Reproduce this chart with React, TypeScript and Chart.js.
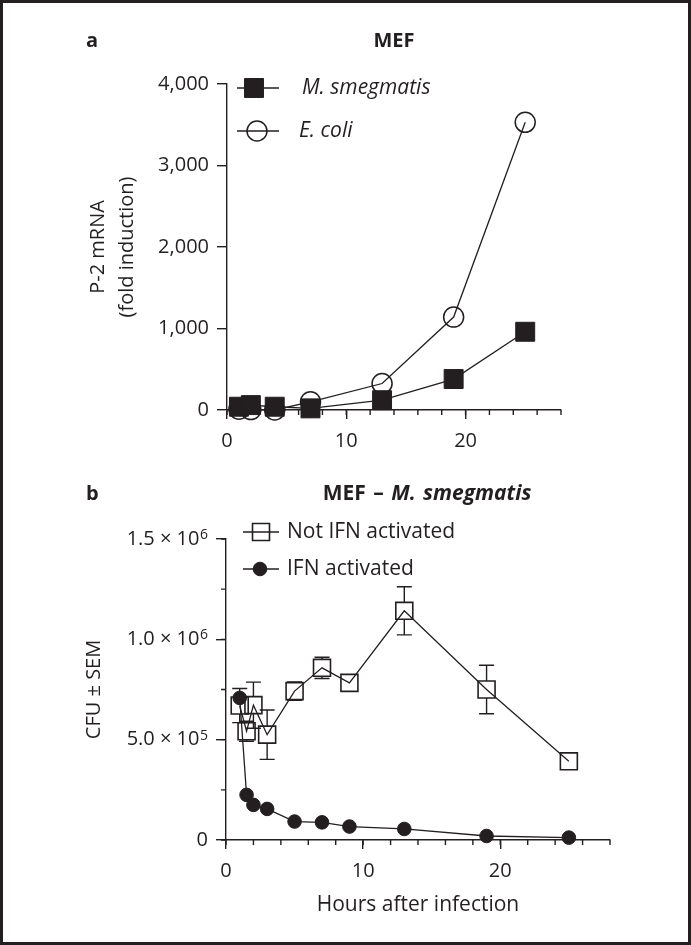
import React, { useEffect, useRef } from "react";
import { Chart, registerables } from "chart.js";

Chart.register(...registerables);

const INK = "#231f20";
const FONT = "'Open Sans', 'DejaVu Sans', sans-serif";

// ---------- Panel a: P-2 mRNA fold induction ----------
const hoursA = [1, 2, 4, 7, 13, 19, 25];
const smegA = [40, 60, 40, 20, 120, 380, 960];
const ecoliA = [10, 5, 0, 100, 325, 1140, 3530];
const yTicksA = [0, 1000, 2000, 3000, 4000];
const yTickLabelsA = ["0", "1,000", "2,000", "3,000", "4,000"];

// ---------- Panel b: CFU ± SEM ----------
const hoursB = [1, 1.5, 2, 3, 5, 7, 9, 13, 19, 25];
const notIfn = [670000, 542000, 672000, 525000, 742000, 858000, 783000, 1142000, 750000, 392000];
const notIfnSem = [85000, 50000, 115000, 123000, 46000, 53000, 0, 120000, 121000, 0];
const ifn = [708000, 225000, 175000, 155000, 92000, 88000, 67000, 55000, 20000, 12000];
const yTicksB = [0, 500000, 1000000, 1500000];
const yTickBasesB = ["0", "5.0 × 10", "1.0 × 10", "1.5 × 10"];
const yTickExpsB = ["", "5", "6", "6"];

const xTicks = [0, 10, 20];
const xTickLabels = ["0", "10", "20"];

function drawMarker(ctx: CanvasRenderingContext2D, style: string, x: number, y: number, r: number, filled: boolean, lw: number) {
  ctx.beginPath();
  if (style === "rect") {
    const s = Math.SQRT1_2 * r;
    ctx.rect(x - s, y - s, 2 * s, 2 * s);
  } else {
    ctx.arc(x, y, r, 0, Math.PI * 2);
  }
  if (filled) {
    ctx.fillStyle = INK;
    ctx.fill();
  }
  ctx.lineWidth = lw;
  ctx.strokeStyle = INK;
  ctx.stroke();
}

const lineLegend = {
  id: "lineLegend",
  afterDraw(chart: any, _args: any, opts: any) {
    if (!opts || !opts.items) return;
    const ctx: CanvasRenderingContext2D = chart.ctx;
    ctx.save();
    for (const it of opts.items) {
      const ds = chart.data.datasets[it.index];
      ctx.beginPath();
      ctx.moveTo(it.x0, it.y);
      ctx.lineTo(it.x1, it.y);
      ctx.lineWidth = 1.4;
      ctx.strokeStyle = INK;
      ctx.stroke();
      drawMarker(ctx, ds.pointStyle, it.mx, it.y, ds.pointRadius, ds.pointBackgroundColor === INK, ds.pointBorderWidth);
      ctx.fillStyle = INK;
      ctx.font = `${it.italic ? "italic " : ""}${opts.size}px ${FONT}`;
      ctx.textBaseline = "middle";
      ctx.textAlign = "left";
      ctx.fillText(ds.label, it.tx, it.y);
    }
    ctx.restore();
  },
};

const minorTicks = {
  id: "minorTicks",
  afterDraw(chart: any, _args: any, opts: any) {
    if (!opts) return;
    const ctx: CanvasRenderingContext2D = chart.ctx;
    ctx.save();
    ctx.strokeStyle = INK;
    ctx.lineWidth = 1.4;
    ctx.beginPath();
    if (opts.xStep) {
      const s = chart.scales.x;
      for (let v = s.min; v <= s.max + 1e-9; v += opts.xStep) {
        const p = s.getPixelForValue(v);
        ctx.moveTo(p, s.top);
        ctx.lineTo(p, s.top + opts.len);
      }
    }
    if (opts.yStep) {
      const s = chart.scales.y;
      for (let v = s.min; v <= s.max + 1e-9; v += opts.yStep) {
        const p = s.getPixelForValue(v);
        ctx.moveTo(s.right, p);
        ctx.lineTo(s.right - opts.len, p);
      }
    }
    ctx.stroke();
    ctx.restore();
  },
};

// y tick labels with a raised exponent (e.g. 1.0 × 10^6), placed by the y scale
const supLabels = {
  id: "supLabels",
  afterDraw(chart: any, _args: any, opts: any) {
    if (!opts || !opts.values) return;
    const s = chart.scales.y;
    const ctx: CanvasRenderingContext2D = chart.ctx;
    ctx.save();
    ctx.fillStyle = INK;
    ctx.textBaseline = "middle";
    ctx.textAlign = "right";
    const xr = s.right - opts.offset;
    opts.values.forEach((v: number, i: number) => {
      const y = s.getPixelForValue(v);
      const exp = opts.exps[i];
      let ew = 0;
      if (exp) {
        ctx.font = `${opts.supSize}px ${FONT}`;
        ew = ctx.measureText(exp).width + opts.gap;
        ctx.fillText(exp, xr, y - opts.raise);
      }
      ctx.font = `${opts.size}px ${FONT}`;
      ctx.fillText(opts.bases[i], xr - ew, y);
    });
    ctx.restore();
  },
};

const errorBars = {
  id: "errorBars",
  afterDatasetsDraw(chart: any, _args: any, opts: any) {
    if (!opts || !opts.sem) return;
    const ctx: CanvasRenderingContext2D = chart.ctx;
    const meta = chart.getDatasetMeta(opts.index);
    const ys = chart.scales.y;
    const vals = chart.data.datasets[opts.index].data;
    ctx.save();
    ctx.strokeStyle = INK;
    ctx.lineWidth = 1.4;
    ctx.beginPath();
    meta.data.forEach((pt: any, i: number) => {
      const e = opts.sem[i];
      if (!e) return;
      const v = vals[i].y;
      const top = ys.getPixelForValue(v + e);
      const bot = ys.getPixelForValue(v - e);
      const x = pt.x;
      if (pt.y - opts.gap > top) {
        ctx.moveTo(x, pt.y - opts.gap);
        ctx.lineTo(x, top);
      }
      if (pt.y + opts.gap < bot) {
        ctx.moveTo(x, pt.y + opts.gap);
        ctx.lineTo(x, bot);
      }
      ctx.moveTo(x - opts.cap, top);
      ctx.lineTo(x + opts.cap, top);
      ctx.moveTo(x - opts.cap, bot);
      ctx.lineTo(x + opts.cap, bot);
    });
    ctx.stroke();
    ctx.restore();
  },
};

function tickFmt(vals: number[], labels: string[]) {
  return (v: any) => {
    const i = vals.indexOf(Number(v));
    return i >= 0 ? labels[i] : "";
  };
}

function axisCommon(tickLength: number) {
  return {
    border: { display: true, color: INK, width: 1.4 },
    grid: { display: true, drawOnChartArea: false, drawTicks: true, tickLength, color: INK, lineWidth: 1.4 },
  };
}

function configA(): any {
  return {
    type: "line",
    data: {
      datasets: [
        {
          label: "M. smegmatis",
          data: hoursA.map((h, i) => ({ x: h, y: smegA[i] })),
          borderColor: INK,
          borderWidth: 1.3,
          pointStyle: "rect",
          pointRadius: 13.4,
          pointBackgroundColor: INK,
          pointBorderColor: INK,
          pointBorderWidth: 1,
          tension: 0,
          fill: false,
          clip: false,
        },
        {
          label: "E. coli",
          data: hoursA.map((h, i) => ({ x: h, y: ecoliA[i] })),
          borderColor: INK,
          borderWidth: 1.3,
          pointStyle: "circle",
          pointRadius: 10,
          pointBackgroundColor: "rgba(0,0,0,0)",
          pointBorderColor: INK,
          pointBorderWidth: 1.5,
          tension: 0,
          fill: false,
          clip: false,
        },
      ],
    },
    options: {
      animation: false,
      responsive: false,
      events: [],
      layout: { padding: { left: 83.5, right: 130, top: 84, bottom: 0 }, autoPadding: false },
      plugins: {
        legend: { display: false },
        tooltip: { enabled: false },
        lineLegend: {
          size: 21,
          items: [
            { index: 0, y: 88, x0: 237, x1: 279, mx: 254, tx: 302, italic: true },
            { index: 1, y: 131, x0: 237, x1: 279, mx: 257, tx: 299, italic: true },
          ],
        },
        minorTicks: { xStep: 2, len: 5 },
      },
      scales: {
        x: {
          type: "linear",
          min: 0,
          max: 28,
          afterFit: (s: any) => { s.height = 60; },
          ...axisCommon(9),
          ticks: { stepSize: 10, includeBounds: false, autoSkip: false, maxRotation: 0, padding: 10, color: INK, font: { family: FONT, size: 20 }, callback: tickFmt(xTicks, xTickLabels) },
        },
        y: {
          type: "linear",
          min: 0,
          max: 4000,
          afterFit: (s: any) => { s.width = 143.5; },
          ...axisCommon(10),
          ticks: { stepSize: 1000, autoSkip: false, padding: 8, color: INK, font: { family: FONT, size: 20 }, callback: tickFmt(yTicksA, yTickLabelsA) },
          title: { display: true, text: ["P-2 mRNA", "(fold induction)"], color: INK, font: { family: FONT, size: 20, lineHeight: 1.45 }, padding: { top: 0, bottom: 0 } },
        },
      },
    },
    plugins: [lineLegend, minorTicks],
  };
}

function configB(): any {
  return {
    type: "line",
    data: {
      datasets: [
        {
          label: "IFN activated",
          data: hoursB.map((h, i) => ({ x: h, y: ifn[i] })),
          borderColor: INK,
          borderWidth: 1.3,
          pointStyle: "circle",
          pointRadius: 6.8,
          pointBackgroundColor: INK,
          pointBorderColor: INK,
          pointBorderWidth: 1,
          tension: 0,
          fill: false,
          clip: false,
        },
        {
          label: "Not IFN activated",
          data: hoursB.map((h, i) => ({ x: h, y: notIfn[i] })),
          borderColor: INK,
          borderWidth: 1.3,
          pointStyle: "rect",
          pointRadius: 12,
          pointBackgroundColor: "rgba(0,0,0,0)",
          pointBorderColor: INK,
          pointBorderWidth: 1.6,
          tension: 0,
          fill: false,
          clip: false,
        },
      ],
    },
    options: {
      animation: false,
      responsive: false,
      events: [],
      layout: { padding: { left: 60, right: 81, top: 69, bottom: 0 }, autoPadding: false },
      plugins: {
        legend: { display: false },
        tooltip: { enabled: false },
        lineLegend: {
          size: 21,
          items: [
            { index: 1, y: 62, x0: 243, x1: 279, mx: 261, tx: 287, italic: false },
            { index: 0, y: 99, x0: 243, x1: 279, mx: 260, tx: 287, italic: false },
          ],
        },
        minorTicks: { xStep: 2, yStep: 250000, len: 5 },
        errorBars: { index: 1, sem: notIfnSem, gap: 8.5, cap: 7.5 },
        supLabels: { values: yTicksB, bases: yTickBasesB, exps: yTickExpsB, offset: 18, size: 20, supSize: 14, raise: 4, gap: 0.5 },
      },
      scales: {
        x: {
          type: "linear",
          min: 0,
          max: 28,
          afterFit: (s: any) => { s.height = 105; },
          ...axisCommon(9),
          ticks: { stepSize: 10, includeBounds: false, autoSkip: false, maxRotation: 0, padding: 10, color: INK, font: { family: FONT, size: 20 }, callback: tickFmt(xTicks, xTickLabels) },
          title: { display: true, text: "Hours after infection", color: INK, font: { family: FONT, size: 21, lineHeight: 1.2 }, padding: { top: 0, bottom: 27 } },
        },
        y: {
          type: "linear",
          min: 0,
          max: 1500000,
          afterFit: (s: any) => { s.width = 166; },
          ...axisCommon(10),
          ticks: { display: false, stepSize: 500000, autoSkip: false },
          title: { display: true, text: "CFU ± SEM", color: INK, font: { family: FONT, size: 20, lineHeight: 1.2 }, padding: { top: 22, bottom: 0 } },
        },
      },
    },
    plugins: [lineLegend, minorTicks, errorBars, supLabels],
  };
}

const textBase: React.CSSProperties = {
  position: "absolute",
  lineHeight: 1,
  whiteSpace: "nowrap",
  color: INK,
  fontFamily: FONT,
};

export default function App() {
  const refA = useRef<HTMLCanvasElement>(null);
  const refB = useRef<HTMLCanvasElement>(null);

  useEffect(() => {
    const a = new Chart(refA.current as HTMLCanvasElement, configA());
    const b = new Chart(refB.current as HTMLCanvasElement, configB());
    return () => {
      a.destroy();
      b.destroy();
    };
  }, []);

  return (
    <div style={{ position: "fixed", left: 0, top: 0, width: 691, height: 945, background: "#fff", overflow: "hidden" }}>
      <canvas ref={refA} width={691} height={470} style={{ position: "absolute", left: 0, top: 0 }} />
      <canvas ref={refB} width={691} height={475} style={{ position: "absolute", left: 0, top: 470 }} />
      <div style={{ ...textBase, left: 86, top: 41, transform: "translateY(-55%)", fontWeight: 700, fontSize: 20 }}>a</div>
      <div style={{ ...textBase, left: 394, top: 41, transform: "translate(-50%,-55%)", fontWeight: 700, fontSize: 20 }}>MEF</div>
      <div style={{ ...textBase, left: 86, top: 494, transform: "translateY(-55%)", fontWeight: 700, fontSize: 20 }}>b</div>
      <div style={{ ...textBase, left: 427, top: 494, transform: "translate(-50%,-55%)", fontWeight: 700, fontSize: 21, wordSpacing: 2 }}>
        MEF – <span style={{ fontStyle: "italic" }}>M. smegmatis</span>
      </div>
      <div style={{ position: "absolute", left: 0, top: 0, width: 691, height: 945, boxSizing: "border-box", border: `3px solid ${INK}`, pointerEvents: "none" }} />
    </div>
  );
}
